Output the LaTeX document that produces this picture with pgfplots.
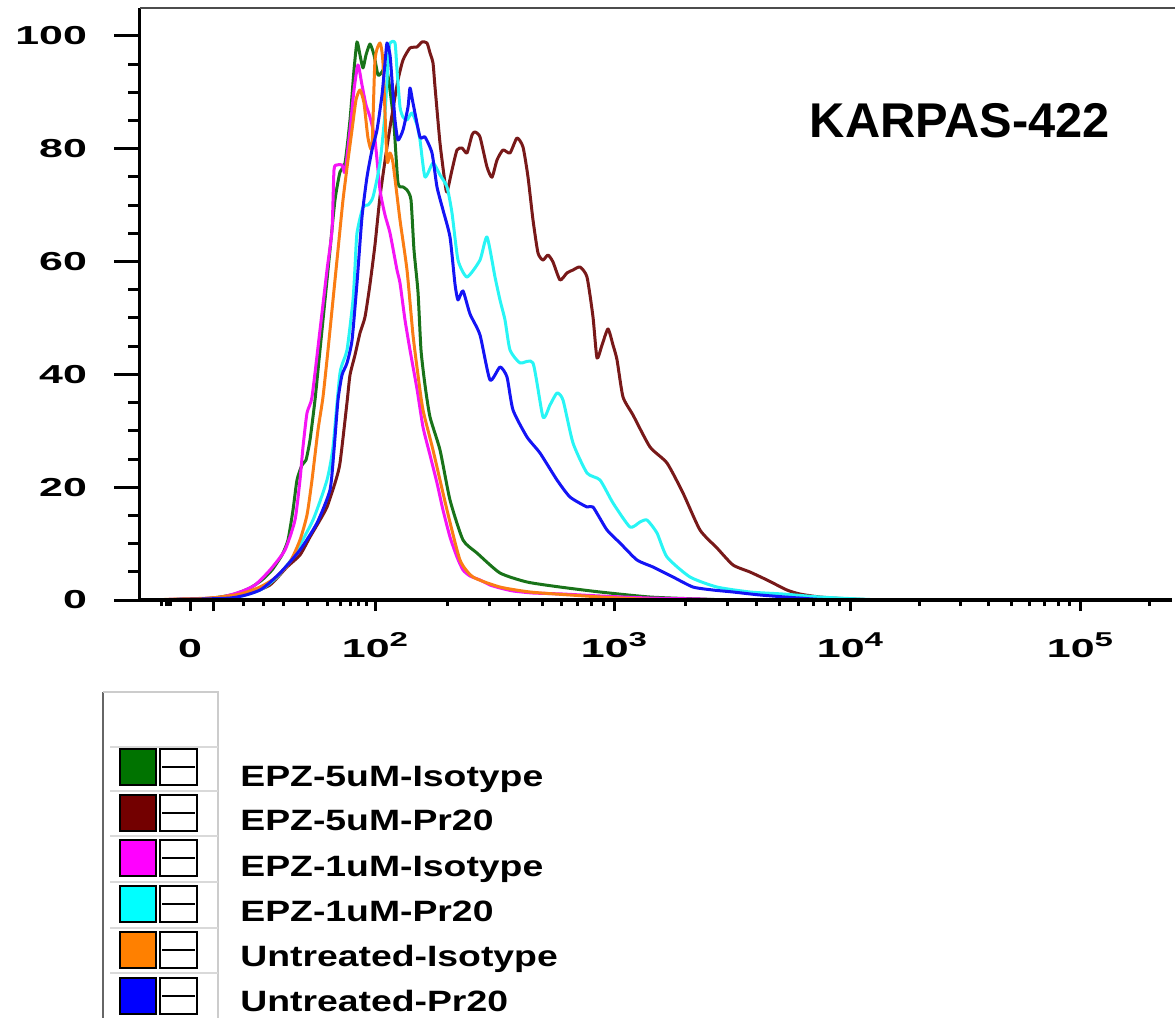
\documentclass[border=0pt]{standalone}
\usepackage{fontspec}
\setmainfont{Liberation Sans}
\newfontfamily\tickfont[FakeStretch=1.65]{Liberation Sans}
\newfontfamily\legfont[FakeStretch=1.27]{Liberation Sans}
\usepackage{pgfplots}
\pgfplotsset{compat=1.18}
\newcommand{\tsup}[1]{\raisebox{0.42em}{\fontsize{10pt}{11pt}\selectfont #1}}
\definecolor{cgreen}{RGB}{25,115,25}
\definecolor{cbrown}{RGB}{120,25,25}
\definecolor{cmag}{RGB}{245,20,245}
\definecolor{ccyan}{RGB}{40,245,245}
\definecolor{corange}{RGB}{250,125,20}
\definecolor{cblue}{RGB}{20,20,245}
\definecolor{lgreen}{RGB}{0,115,0}
\definecolor{lbrown}{RGB}{115,0,0}
\definecolor{lmag}{RGB}{255,0,255}
\definecolor{lcyan}{RGB}{0,255,255}
\definecolor{lorange}{RGB}{255,128,0}
\definecolor{lblue}{RGB}{0,0,255}
\begin{document}
\begin{tikzpicture}
\useasboundingbox (0,0) rectangle (587.5pt,-509pt);
\begin{axis}[
  at={(70pt,-300pt)}, anchor=south west,
  scale only axis, width=516pt, height=296pt,
  xmin=140, xmax=1172, ymin=0, ymax=104.96,
  axis lines=left, axis line style={-, line width=1.5pt},
  x axis line style={line width=2pt},
  xtick=\empty,
  ytick={0,20,40,60,80,100},
  yticklabels={0,20,40,60,80,100},
  minor ytick={5,10,15,25,30,35,45,50,55,65,70,75,85,90,95},
  tick align=outside,
  major tick length=13pt, minor tick length=6pt,
  every tick/.style={black, line width=1.5pt},
  yticklabel style={font={\tickfont\bfseries\fontsize{13pt}{15pt}\selectfont}, anchor=east, xshift=-10pt},
  axis on top,
  every axis plot/.append style={line width=1.5pt, smooth, tension=0.35, line join=round},
]
% EPZ-5uM-Isotype
\addplot[cgreen] coordinates {
(145,0) (200,0.18) (220,0.53) (235,1.06) (250,2.13) (262,3.55) (272,5.32) (282,7.98) (288,10.64)
(293,15.96) (297,21.28) (302,23.94) (306,24.82) (310,28.37) (315,35.46) (320,44.33) (325,53.19)
(330,62.06) (335,70.92) (340,75.89) (345,77.48) (350,85.11) (354,93.97) (357,98.94) (360,96.63)
(363,94.33) (366,96.63) (370,98.58) (374,96.63) (378,93.09) (382,93.62) (386,94.86) (390,90.43)
(394,84.22) (398,73.94) (403,73.23) (407,72.70) (411,70.92) (414,62.06) (418,54.61) (421,44.33)
(425,38.12) (430,32.45) (440,26.60) (450,17.73) (463,10.64) (477,8.33) (500,4.79) (527,3.19)
(560,2.30) (600,1.42) (650,0.53) (700,0.18) (760,0) (1170,0)};
% EPZ-5uM-Pr20
\addplot[cbrown] coordinates {
(145,0) (220,0.35) (250,1.24) (270,2.66) (287,5.85) (300,7.98) (310,11.17) (320,14.18) (327,16.49)
(335,20.74) (340,24.29) (347,35.0) (350,39.89) (355,43.44) (360,47.34) (365,50.18) (370,56.0)
(375,63.0) (380,71.5) (387,80.32) (393,87.10) (398,92.20) (403,95.74) (410,97.87) (417,98.05)
(422,98.94) (427,98.76) (430,97.0) (433,95.21) (435,91.0) (440,81.03) (445,73.94) (447,72.34)
(452,76.24) (457,79.79) (462,80.14) (467,79.26) (472,82.45) (475,83.0) (480,82.09) (487,76.77)
(492,74.96) (497,78.01) (503,79.79) (510,79.26) (517,81.91) (523,80.32) (528,75.0) (533,67.38)
(538,61.52) (543,60.28) (548,61.17) (553,59.93) (560,56.74) (567,58.0) (573,58.51) (580,59.04)
(587,57.27) (593,50.18) (597,42.9) (602,45.2) (608,48.05) (613,45.21) (617,42.6) (623,36.0)
(633,32.8) (650,27.13) (667,24.29) (683,18.97) (700,12.41) (717,9.22) (733,6.21) (750,4.96)
(767,3.55) (787,1.77) (800,1.06) (820,0.53) (850,0.18) (900,0) (1170,0)};
% EPZ-1uM-Isotype
\addplot[cmag] coordinates {
(145,0) (215,0.35) (240,1.42) (255,2.66) (270,5.32) (285,8.87) (295,14.18) (300,21.28) (303,27.13)
(307,33.16) (312,36.0) (320,47.87) (327,58.51) (332,65.60) (334,76.24) (337,77.13) (342,77.13)
(345,75.89) (350,83.33) (354,90.43) (358,94.86) (362,91.31) (366,87.77) (370,85.64) (375,81.56)
(380,72.70) (385,68.26) (390,65.07) (397,58.51) (400,56.21) (405,49.65) (410,44.33) (417,37.41)
(423,30.67) (430,25.71) (437,20.74) (443,15.96) (450,11.17) (457,7.62) (463,5.32) (470,4.26)
(480,3.55) (490,2.66) (500,2.13) (513,1.60) (533,1.24) (563,1.06) (600,0.71) (650,0.35)
(700,0.18) (750,0) (1170,0)};
% EPZ-1uM-Pr20
\addplot[ccyan] coordinates {
(145,0) (230,0.35) (260,1.77) (277,4.08) (293,7.62) (313,14.18) (327,21.28) (333,27.13) (340,40.25)
(347,44.33) (353,53.19) (355,59.04) (357,65.07) (363,69.68) (368,70.04) (373,71.45) (380,77.48)
(385,86.35) (388,95.21) (390,98.76) (395,98.76) (397,93.97) (400,87.41) (403,85.64) (407,85.1)
(412,86.35) (417,84.22) (420,81.56) (425,75.0) (433,77.48) (440,75.36) (447,73.23) (452,68.62)
(458,60.28) (467,57.27) (480,60.28) (487,64.36) (495,57.27) (500,53.19) (505,49.65) (510,44.33)
(520,42.02) (533,42.02) (543,32.45) (550,34.57) (557,36.70) (563,35.46) (573,27.84) (587,22.52)
(600,21.28) (613,17.20) (630,12.94) (640,13.83) (647,14.18) (657,11.88) (667,7.62) (690,4.08)
(717,2.30) (750,1.42) (783,1.06) (820,0.53) (860,0.18) (900,0) (1170,0)};
% Untreated-Isotype
\addplot[corange] coordinates {
(145,0) (210,0.35) (240,1.06) (260,2.30) (275,3.90) (290,6.74) (300,10.64) (307,15.07) (312,21.28)
(318,30.14) (323,35.99) (328,44.33) (333,53.19) (338,62.06) (343,70.92) (348,78.01) (352,83.33)
(356,88.65) (360,90.43) (364,88.12) (368,81.91) (372,80.32) (375,95.74) (380,98.76) (383,95.21)
(387,78.01) (390,79.26) (393,77.48) (400,67.38) (407,58.51) (413,46.99) (418,39.89) (423,33.69)
(433,26.60) (447,15.96) (460,7.09) (473,4.08) (500,2.30) (530,1.42) (570,0.89) (620,0.35)
(700,0) (1170,0)};
% Untreated-Pr20
\addplot[cblue] coordinates {
(145,0) (230,0.35) (260,1.77) (280,4.79) (300,8.87) (317,13.65) (330,19.50) (334,26.60) (338,35.46)
(342,39.89) (347,42.02) (352,46.0) (357,56.21) (362,67.91) (367,75.0) (372,79.79) (377,83.33)
(382,89.54) (385,95.21) (387,98.76) (390,96.63) (392,92.20) (395,85.11) (398,81.56) (403,83.33)
(408,87.41) (410,90.78) (413,88.12) (420,82.09) (425,82.09) (432,79.26) (437,73.23) (443,69.15)
(450,64.36) (455,56.0) (458,53.19) (463,54.8) (470,50.71) (480,46.99) (490,39.01) (500,41.31)
(507,39.54) (513,33.69) (527,28.90) (540,26.06) (557,21.28) (570,18.26) (587,16.49) (593,16.49)
(607,12.41) (620,10.11) (637,7.09) (653,5.85) (673,4.08) (693,2.30) (713,1.77) (733,1.42)
(760,0.89) (800,0.35) (850,0) (1170,0)};
\end{axis}
\begin{axis}[
  at={(70pt,-300pt)}, anchor=south west,
  scale only axis, width=516pt, height=296pt,
  xmin=140, xmax=1172, ymin=0, ymax=104.96,
  axis x line=bottom, axis y line=none,
  axis line style={-, line width=2pt},
  ytick=\empty,
  xtick={190,213,375,614,850,1080},
  xticklabels={0,,10\tsup{2},10\tsup{3},10\tsup{4},10\tsup{5}},
  minor xtick={162,166,170,243,263,283,307,327,340,350,358,366,447,489,519,542,561,577,591,603,685,727,756,779,798,813,827,839,919,960,988,1011,1029,1044,1058,1069,1149},
  tick align=outside,
  major tick length=5.5pt, minor tick length=3pt,
  every tick/.style={black, line width=1.5pt},
  xticklabel style={font={\tickfont\bfseries\fontsize{13pt}{15pt}\selectfont}, anchor=base, yshift=-23pt},
]
\end{axis}
\draw[black!70, line width=1pt] (70pt,-4pt) -- (587.5pt,-4pt);
\node[anchor=base, font={\bfseries\fontsize{24.4pt}{28pt}\selectfont}] at (480pt,-68.5pt) {KARPAS-422};
% legend frame
\draw[black!60, line width=1pt] (51.5pt,-346pt) -- (51.5pt,-509pt);
\draw[black!20, line width=0.6pt] (51.5pt,-346pt) -- (109pt,-346pt) -- (109pt,-509pt);
\foreach \yy in {373.5,395.5,418,441,464,486.5} {\draw[black!15, line width=0.6pt] (55pt,-\yy pt) -- (109pt,-\yy pt);}
\foreach \yy/\cc/\bb/\tt in {374.5/lgreen/393/EPZ-5uM-Isotype, 397.5/lbrown/415/EPZ-5uM-Pr20, 420/lmag/438/EPZ-1uM-Isotype, 443/lcyan/460.5/EPZ-1uM-Pr20, 466/lorange/483/Untreated-Isotype, 489/lblue/505.5/Untreated-Pr20} {
  \filldraw[fill=\cc, draw=black, line width=1pt] (60pt,-\yy pt) rectangle (78pt,-\yy pt-18pt);
  \draw[black, line width=1pt] (80pt,-\yy pt) rectangle (98.5pt,-\yy pt-18pt);
  \draw[black, line width=1pt] (81pt,-\yy pt-9pt) -- (97.5pt,-\yy pt-9pt);
  \node[anchor=base west, inner sep=0pt, font={\legfont\bfseries\fontsize{14.7pt}{17pt}\selectfont}] at (120pt,-\bb pt) {\tt};
}
\end{tikzpicture}
\end{document}
